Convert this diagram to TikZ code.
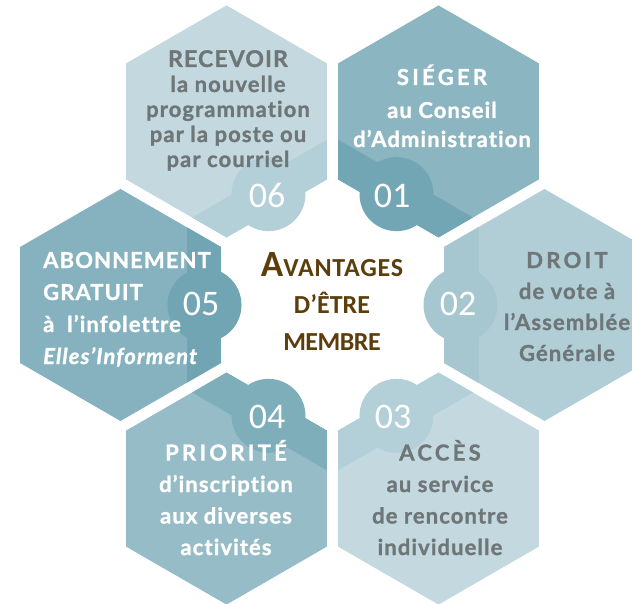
\documentclass[tikz,border=0pt]{standalone}
\usepackage{fontspec}
\setmainfont{Lato}[Ligatures=NoCommon, BoldFeatures={FakeBold=1.2}, BoldItalicFeatures={FakeBold=1.2}]
\newfontfamily\numfont{Carlito}
\newfontfamily\titlefont{Carlito}
\definecolor{greytext}{HTML}{6E7677}
\definecolor{titlebrown}{HTML}{5C3D0C}
\definecolor{paleA}{HTML}{C3D9DF}
\definecolor{paleB}{HTML}{B3CFD8}
\definecolor{softA}{HTML}{B1CED7}
\definecolor{softB}{HTML}{A6C6D0}
\definecolor{midA}{HTML}{96BDC7}
\definecolor{midB}{HTML}{7FAEBB}
\definecolor{deepA}{HTML}{8BB5C1}
\definecolor{deepB}{HTML}{73A6B4}
\definecolor{darkA}{HTML}{85B2BE}
\definecolor{darkB}{HTML}{71A5B3}
\tikzset{
  celltext/.style={font=\bfseries\fontsize{22}{#1}\selectfont\addfontfeatures{LetterSpace=5}, align=center, anchor=base, inner sep=0pt},
  darktext/.style={celltext=#1, text=greytext},
  lighttext/.style={celltext=#1, text=white},
  numtext/.style={font=\numfont\fontsize{36}{36}\selectfont, text=white, anchor=base, inner sep=0pt},
  titletext/.style={font=\titlefont\bfseries\fontsize{26}{37}\selectfont, text=titlebrown, align=center, anchor=base, inner sep=0pt}
}
\def\spaced{\addfontfeatures{LetterSpace=15}}
% hexagon with its shaded inner band and number disc
\newcommand\hexcell[4]{%
  \begin{scope}[shift={#1},rotate=#2]
    \begin{scope}
      \clip (30:116) -- (90:116) -- (150:116) -- (210:116) -- (270:116) -- (330:116) -- cycle;
      \fill[#3] (-120,-120) rectangle (120,120);
      \fill[#4] (66,-120) rectangle (120,120);
    \end{scope}
    \fill[#4] (84,0) circle (37);
  \end{scope}}

\begin{document}
\begin{tikzpicture}[x=1pt,y=-1pt]
\useasboundingbox (0,0) rectangle (632,604);
\hexcell{(226.5,121.4)}{-60}{paleA}{paleB}
\hexcell{(438.5,121.4)}{-120}{deepA}{deepB}
\hexcell{(544.5,305)}{180}{softA}{softB}
\hexcell{(438.5,488.6)}{120}{paleA}{paleB}
\hexcell{(226.5,488.6)}{60}{midA}{midB}
\hexcell{(120.5,305)}{0}{darkA}{darkB}

\node[numtext] (n06) at (267,208) {06};
\node[numtext] (n01) at (392,208) {01};
\node[numtext] (n02) at (458,315) {02};
\node[numtext] (n03) at (393,428) {03};
\node[numtext] (n04) at (267,428) {04};
\node[numtext] (n05) at (201,315) {05};

% text blocks sit on their last line
\node[darktext=25] (recevoir) at (228,167) {{\fontsize{23}{25}\selectfont RECEVOIR}\\la nouvelle\\programmation\\par la poste ou\\par courriel};
\node[lighttext=29] (sieger) at (442,147) {{\spaced SIÉGER}\\[4pt]au Conseil\\d’Administration};
\node[darktext=31] (droit) at (567,361) {{\spaced DROIT}\\de vote à\\l’Assemblée\\Générale};
\node[darktext=31.5] (acces) at (440,555) {{\spaced ACCÈS}\\au service\\de rencontre\\individuelle};
\node[lighttext=31.5] (priorite) at (226,555) {{\spaced PRIORITÉ}\\d’inscription\\aux diverses\\activités};
\node[lighttext=32, align=left, anchor=base west] (abonnement) at (43,364) {ABONNEMENT\\GRATUIT\\à~~l’infolettre\\\textit{Elles’Informent}};

\node[titletext] (title) at (332,350) {{\fontsize{37}{37}\selectfont A}{\addfontfeatures{LetterSpace=3}VANTAGES}\\D’ÊTRE\\{\addfontfeatures{LetterSpace=-2}MEMBRE}};
\end{tikzpicture}
\end{document}
